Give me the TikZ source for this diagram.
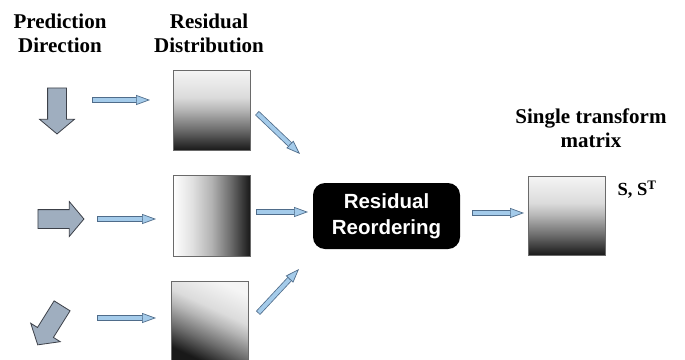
\documentclass[tikz,border=0pt]{standalone}
\usepackage{fontspec}
\setmainfont{Liberation Serif}
\newfontfamily\labelsans{Liberation Sans}
\usetikzlibrary{shapes.arrows,arrows.meta,calc}

\definecolor{blockgray}{HTML}{9FAEBF}
\definecolor{blockedge}{HTML}{3C4048}
\definecolor{flowfill}{HTML}{A4CBEA}
\definecolor{flowedge}{HTML}{4F6C8A}
\definecolor{boxedge}{HTML}{6A6A6A}

% light-to-dark fades that stay pale over the first half
\pgfdeclareverticalshading{fadedown}{100bp}{%
  color(0bp)=(black!90); color(25bp)=(black!90); color(37.5bp)=(black!58);
  color(50bp)=(black!29); color(58bp)=(black!14); color(75bp)=(black!4);
  color(100bp)=(black!4)}
\pgfdeclarehorizontalshading{faderight}{100bp}{%
  color(0bp)=(white); color(25bp)=(white); color(37.5bp)=(black!12);
  color(50bp)=(black!30); color(62.5bp)=(black!58); color(75bp)=(black!90);
  color(100bp)=(black!90)}

\tikzset{
  title/.style={font=\fontsize{21}{24}\selectfont\bfseries, align=center},
  fatarrow/.style={single arrow, draw=blockedge, fill=blockgray, line width=0.8pt,
    minimum height=46pt, minimum width=34pt, inner sep=9pt,
    single arrow head extend=8pt, single arrow tip angle=100, anchor=center},
  grad/.style={draw=boxedge, line width=1pt, minimum width=77pt, minimum height=80pt,
    inner sep=0pt},
  reorder/.style={fill=black, rounded corners=12pt, minimum width=147pt,
    minimum height=66pt, text=white, align=center,
    font=\labelsans\fontsize{20.5}{26}\selectfont\bfseries},
}

% thin block arrow between two named points
\newcommand\flowarrow[2]{%
  \draw[line width=5.6pt, draw=flowedge, shorten >=12pt] (#1) -- (#2);
  \draw[line width=4pt, draw=flowfill, shorten >=11pt, shorten <=0.8pt] (#1) -- (#2);
  \draw[line width=0.7pt, draw=flowedge,
    -{Triangle[length=14pt, width=10pt, fill=flowfill]}] ($(#2)!14pt!(#1)$) -- (#2);
}

\begin{document}
\begin{tikzpicture}[x=1pt, y=-1pt]
  \useasboundingbox (0,0) rectangle (685,359);
  \clip (0,0) rectangle (685,359);

  % column titles
  \node[title] (tpred) at (60,33) {Prediction\\Direction};
  \node[title] (tres) at (209,33) {Residual\\Distribution};
  \node[title] (tsingle) at (591,128) {Single transform\\matrix};

  % prediction directions
  \node[fatarrow, rotate=-90] (pdown) at (57,107) {};
  \node[fatarrow] (pright) at (57,219) {};
  \node[fatarrow, rotate=238] (pdiag) at (52,322) {};

  % residual distributions
  \node[grad, shading=fadedown] (rtop) at (212,110) {};
  \node[grad, shading=faderight, minimum height=81pt] (rmid) at (211.5,215.5) {};
  \node[grad, shading=fadedown, shading angle=-25] (rbot) at (210,321) {};

  % reordering block
  \node[reorder] (reo) at (386.5,216) {Residual\\Reordering};

  % single transform
  \node[grad, shading=fadedown, minimum height=79pt] (single) at (566.5,215.5) {};
  \node[font=\fontsize{18.5}{20}\selectfont\bfseries, anchor=west] (sst) at (614,190)
    {S, S\textsuperscript{T}};

  % flow connectors
  \coordinate (a1s) at (92,100);  \coordinate (a1e) at (150,100);
  \coordinate (a2s) at (97,219);  \coordinate (a2e) at (156,219);
  \coordinate (a3s) at (97,318);  \coordinate (a3e) at (156,318);
  \coordinate (b1s) at (257,113); \coordinate (b1e) at (300,154);
  \coordinate (b2s) at (256,212); \coordinate (b2e) at (308,212);
  \coordinate (b3s) at (258,313); \coordinate (b3e) at (299,269);
  \coordinate (c1s) at (472,213); \coordinate (c1e) at (524,213);
  \flowarrow{a1s}{a1e}
  \flowarrow{a2s}{a2e}
  \flowarrow{a3s}{a3e}
  \flowarrow{b1s}{b1e}
  \flowarrow{b2s}{b2e}
  \flowarrow{b3s}{b3e}
  \flowarrow{c1s}{c1e}
\end{tikzpicture}
\end{document}
